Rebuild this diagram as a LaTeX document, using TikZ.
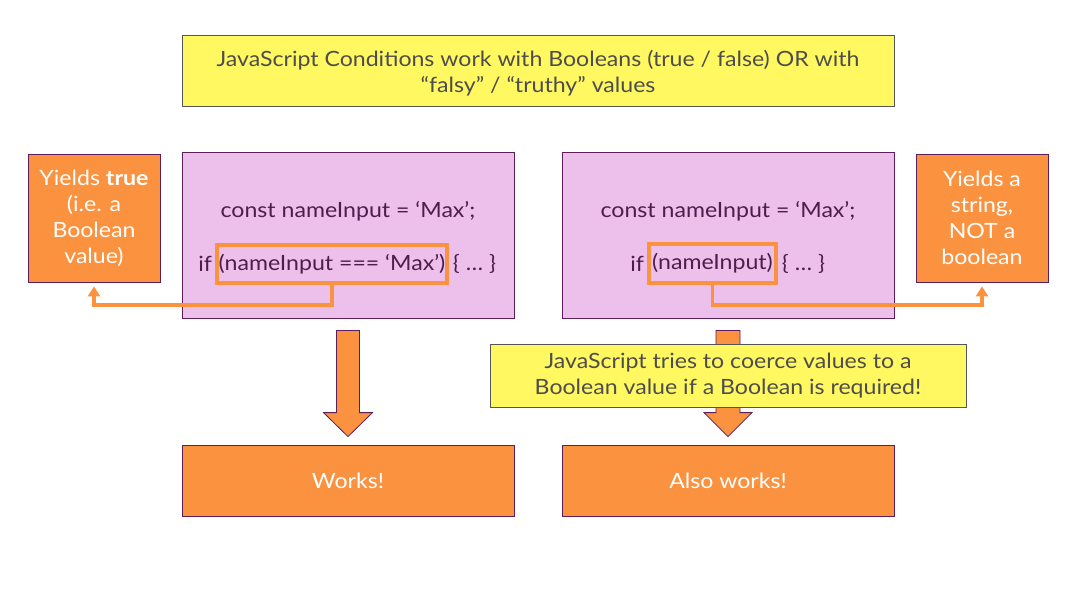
\documentclass[tikz,border=0pt]{standalone}
\usepackage{fontspec}
\setmainfont{Lato}[FakeStretch=1.1]
\usetikzlibrary{calc,arrows.meta}
\definecolor{orng}{HTML}{FA9240}
\definecolor{pinkf}{HTML}{ECC0EA}
\definecolor{yell}{HTML}{FFF860}
\definecolor{purp}{HTML}{5B1E5B}
\definecolor{purptxt}{HTML}{4E1D4E}
\definecolor{graytxt}{HTML}{4D4D4D}
\definecolor{grayline}{HTML}{555555}
\begin{document}
\begin{tikzpicture}[x=1pt,y=-1pt,
  every node/.style={font=\fontsize{21}{26}\selectfont, inner sep=0pt},
  ybox/.style={draw=grayline, line width=0.8pt, fill=yell, text=graytxt, align=center},
  ytext/.style={text=graytxt, align=center},
  obox/.style={draw=purp, line width=0.8pt, fill=orng, text=white, align=center},
  pbox/.style={draw=purp, line width=0.8pt, fill=pinkf},
  code/.style={text=purptxt},
  hlbox/.style={draw=orng, line width=3.5pt, text=purptxt},
  conn/.style={draw=orng, line width=3.6pt, -{Triangle[length=10pt,width=12pt]}, shorten >=4pt},
  barrow/.style={draw=purp, line width=0.8pt, fill=orng}
]
\useasboundingbox (0,0) rectangle (1087,590);

\node[ybox, minimum width=712pt, minimum height=71pt] (top) at (538,70.5) {};
\node[ytext] (toptext) at ($(top.center)+(0,3)$)
  {JavaScript Conditions work with Booleans (true / false) OR with\\“falsy” / “truthy” values};

\node[obox, minimum width=132pt, minimum height=128pt] (yl) at (94,218)
  {Yields \textbf{true}\\(i.e. a\\Boolean\\value)};
\node[obox, minimum width=132pt, minimum height=128pt] (yr) at (982,218)
  {Yields a\\string,\\NOT a\\boolean};

\node[pbox, minimum width=332pt, minimum height=166pt] (pl) at (348,235) {};
\node[pbox, minimum width=332pt, minimum height=166pt] (pr) at (728,235) {};

\node[code] (cl1) at (348,211) {const nameInput = ‘Max’;};
\node[code] (cr1) at (728,211) {const nameInput = ‘Max’;};

\node[hlbox, minimum width=230pt, minimum height=38pt] (hlL) at (332,264) {(nameInput === ‘Max’)};
\node[code, anchor=east] (ifL) at ($(hlL.west)+(-3,0)$) {if};
\node[code, anchor=west] (brL) at ($(hlL.east)+(4,0)$) {\{ … \}};

\node[hlbox, minimum width=127pt, minimum height=39pt] (hlR) at (712.5,263.5) {(nameInput)};
\node[code, anchor=east] (ifR) at ($(hlR.west)+(-3,0)$) {if};
\node[code, anchor=west] (brR) at ($(hlR.east)+(4,0)$) {\{ … \}};

\draw[conn] (hlL.south) -- ++(0,20) -| (yl.south);
\draw[conn] (hlR.south) -- ++(0,20) -| (yr.south);

\node[obox, minimum width=332pt, minimum height=71pt] (wl) at (348,480.5) {Works!};
\node[obox, minimum width=332pt, minimum height=71pt] (wr) at (728,480.5) {Also works!};

\draw[barrow] ($(pl.south)+(-11.5,12)$) -- ($(pl.south)+(11.5,12)$)
  -- ($(wl.north)+(11.5,-32)$) -- ($(wl.north)+(24.5,-32)$) -- ($(wl.north)+(0,-8)$)
  -- ($(wl.north)+(-24.5,-32)$) -- ($(wl.north)+(-11.5,-32)$) -- cycle;
\draw[barrow] ($(pr.south)+(-12,12)$) -- ($(pr.south)+(12,12)$)
  -- ($(wr.north)+(12,-32)$) -- ($(wr.north)+(24,-32)$) -- ($(wr.north)+(0,-8)$)
  -- ($(wr.north)+(-24,-32)$) -- ($(wr.north)+(-12,-32)$) -- cycle;

\node[ybox, minimum width=476pt, minimum height=63pt] (mid) at (728,375.5)
  {JavaScript tries to coerce values to a\\Boolean value if a Boolean is required!};
\end{tikzpicture}
\end{document}
